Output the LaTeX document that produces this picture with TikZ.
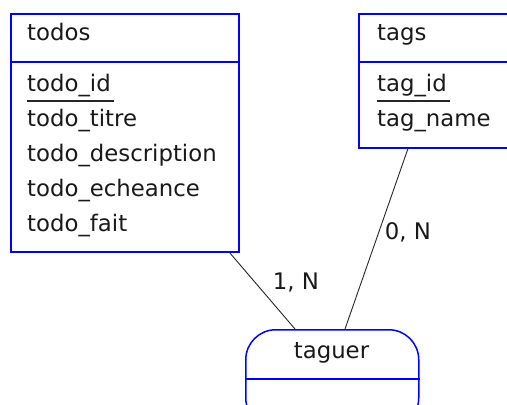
\documentclass[tikz,border=0pt]{standalone}
\usepackage{fontspec}
\setmainfont{DejaVu Sans}
\usetikzlibrary{positioning}
\tikzset{%
	entity/.style={
		draw=blue,
		line width=1.5pt,
		inner sep=0pt
	},
	field/.style={
		inner sep=0pt,
		text=black!90,
		font=\fontsize{22.8pt}{27pt}\selectfont
	},
}

\begin{document}
\begin{tikzpicture}[x=1pt,y=-1pt]
	\tikzstyle{link}=[draw=black!85,line width=0.9pt]
	\tikzstyle{keyline}=[draw=black!85,line width=1.8pt]
	\useasboundingbox (0,0) rectangle (507,405);
	\clip (0,0) rectangle (507,405);
	
	% table todos
	\node[entity,minimum width=228pt,minimum height=238pt,anchor=north west](todos) at (10,13){};
	\draw[entity] (todos.west |- 0,62) -- (todos.east |- 0,62);
	\node[field,anchor=base west](todosname) at (27,40){todos};
	\node[field,anchor=base west](tid) at (27,91){todo\_id};
	\node[field,anchor=base west](ttitre) at (27,126){todo\_titre};
	\node[field,anchor=base west](tdesc) at (27,161.5){todo\_description};
	\node[field,anchor=base west](tech) at (27,196.5){todo\_echeance};
	\node[field,anchor=base west](tfait) at (27,231.5){todo\_fait};
	\draw[keyline] ([yshift=-10pt]tid.base west) -- ([yshift=-10pt,xshift=3pt]tid.base east);
	
	% table tags
	\node[entity,minimum width=152pt,minimum height=134pt,anchor=north west](tags) at (358,13){};
	\draw[entity] (tags.west |- 0,62) -- (tags.east |- 0,62);
	\node[field,anchor=base west](tagsname) at (377,40){tags};
	\node[field,anchor=base west](gid) at (377,91){tag\_id};
	\node[field,anchor=base west](gname) at (377,126){tag\_name};
	\draw[keyline] ([yshift=-10pt]gid.base west) -- ([yshift=-10pt,xshift=3pt]gid.base east);
	
	% association taguer
	\node[entity,rounded corners=30pt,minimum width=173pt,minimum height=98pt,anchor=north west](taguer) at (245,329){};
	\draw[entity] (taguer.west) -- (taguer.east);
	\node[field,anchor=base](tagname) at (331.5,358){taguer};
	
	% links
	\coordinate (todosfoot) at ([xshift=-10pt]todos.south east);
	\coordinate (tagsfoot) at ([xshift=50pt]tags.south west);
	\coordinate (taguerl) at ([xshift=50pt]taguer.north west);
	\coordinate (taguerr) at ([xshift=100pt]taguer.north west);
	\draw[link] (todosfoot) -- (taguerl);
	\draw[link] (tagsfoot) -- (taguerr);
	
	\node[field](card1) at (296,283){1, N};
	\node[field](card2) at (408,232){0, N};
\end{tikzpicture}
\end{document}
